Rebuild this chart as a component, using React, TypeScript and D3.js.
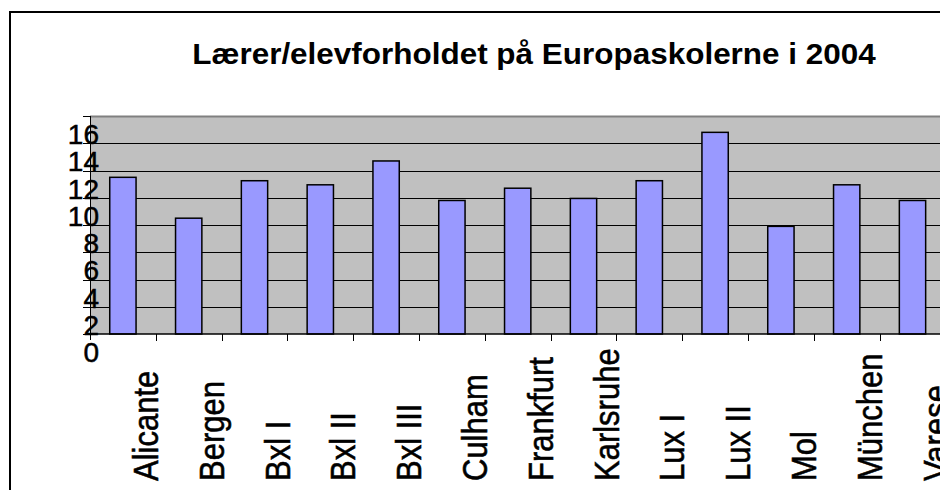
import React, { useEffect, useRef } from 'react';
import * as d3 from 'd3';

// Schools and teacher/pupil ratio
const schools = ['Alicante', 'Bergen', 'Bxl I', 'Bxl II', 'Bxl III', 'Culham', 'Frankfurt', 'Karlsruhe', 'Lux I', 'Lux II', 'Mol', 'München', 'Varese'];
const ratios = [11.5, 8.5, 11.25, 10.95, 12.7, 9.8, 10.7, 9.95, 11.25, 14.8, 7.9, 10.95, 9.8];
const yTicks = [0, 2, 4, 6, 8, 10, 12, 14, 16];
const title = 'Lærer/elevforholdet på Europaskolerne i 2004';

const App = () => {
  const ref = useRef<SVGSVGElement>(null);

  useEffect(() => {
    const width = 940;
    const height = 490;
    const font = '"Liberation Sans", Arial, sans-serif';

    const svg = d3.select(ref.current);
    svg.selectAll('*').remove();

    // plot area (runs off the right edge like the screenshot)
    const left = 90;
    const top = 116;
    const bottom = 334;
    const step = 65.8;
    const right = left + step * schools.length;

    const x = d3.scaleBand<string>().domain(schools).range([left, right]).padding(0);
    const y = d3.scaleLinear().domain([0, 16]).range([bottom, top]);

    // outer chart frame
    svg.append('rect')
      .attr('x', 10).attr('y', 12)
      .attr('width', width + 20).attr('height', height + 20)
      .attr('fill', 'white').attr('stroke', 'black').attr('stroke-width', 2);

    svg.append('text')
      .attr('transform', 'translate(534,63.5) scale(1.085,1)')
      .attr('text-anchor', 'middle')
      .style('font', `bold 29px ${font}`)
      .text(title);

    // background
    svg.append('rect')
      .attr('x', left).attr('y', top)
      .attr('width', right - left).attr('height', bottom - top)
      .attr('fill', '#c0c0c0');

    // gridlines
    svg.append('g')
      .selectAll('line')
      .data(yTicks.filter(d => d > 0))
      .join('line')
      .attr('x1', left).attr('x2', right)
      .attr('y1', d => Math.round(y(d)) + 0.5).attr('y2', d => Math.round(y(d)) + 0.5)
      .attr('stroke', d => d === 16 ? '#808080' : 'black')
      .attr('stroke-width', d => d === 16 ? 2 : 1);

    // bars
    svg.append('g')
      .selectAll('rect')
      .data(ratios)
      .join('rect')
      .attr('x', (d, i) => x(schools[i])! + step * 0.3)
      .attr('width', step * 0.4)
      .attr('y', d => y(d))
      .attr('height', d => y(0) - y(d))
      .attr('fill', '#9999ff')
      .attr('stroke', 'black')
      .attr('stroke-width', 1.5);

    // axes
    svg.append('line')
      .attr('x1', left).attr('x2', right)
      .attr('y1', bottom).attr('y2', bottom)
      .attr('stroke', 'black').attr('stroke-width', 1.5);
    svg.append('line')
      .attr('x1', left + 0.5).attr('x2', left + 0.5)
      .attr('y1', top).attr('y2', bottom + 6)
      .attr('stroke', 'black').attr('stroke-width', 1);

    // x ticks at category boundaries
    svg.append('g')
      .selectAll('line')
      .data(schools.slice(1))
      .join('line')
      .attr('x1', d => Math.round(x(d)!) + 0.5).attr('x2', d => Math.round(x(d)!) + 0.5)
      .attr('y1', bottom).attr('y2', bottom + 7)
      .attr('stroke', 'black');

    // y ticks
    svg.append('g')
      .selectAll('line')
      .data(yTicks)
      .join('line')
      .attr('x1', left - 7).attr('x2', left)
      .attr('y1', d => Math.round(y(d)) + 0.5).attr('y2', d => Math.round(y(d)) + 0.5)
      .attr('stroke', 'black');

    // y labels (sit below their lines, as in the original)
    svg.append('g')
      .selectAll('text')
      .data(yTicks)
      .join('text')
      .attr('x', 99)
      .attr('y', d => y(d) + 28)
      .attr('text-anchor', 'end')
      .attr('stroke', 'black').attr('stroke-width', 0.5)
      .style('font', `28px ${font}`)
      .text(d => d);

    // x labels, rotated (glyphs a bit wider across, like the original)
    svg.append('g')
      .selectAll('text')
      .data(schools)
      .join('text')
      .attr('transform', d => `translate(${x(d)! + step / 2 + 35},481) rotate(-90) scale(1,1.15)`)
      .attr('text-anchor', 'start')
      .attr('stroke', 'black').attr('stroke-width', 0.5)
      .style('font', `31px ${font}`)
      .text(d => d);
  }, []);

  return (
    <svg
      ref={ref}
      width={940}
      height={490}
      style={{ position: 'absolute', left: 0, top: 0, display: 'block', background: 'white' }}
    />
  );
};

export default App;
